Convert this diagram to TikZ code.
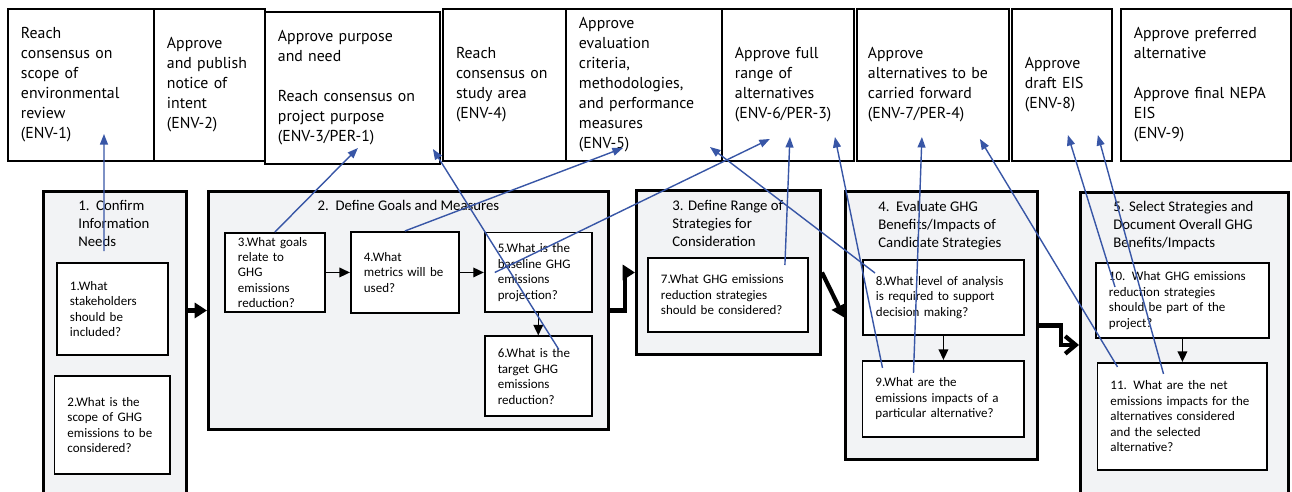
\documentclass[tikz,border=0pt]{standalone}
\usepackage{fontspec}
\setmainfont{Carlito}
\newfontfamily\milestonefont{PT Sans}
\usetikzlibrary{positioning,arrows.meta}

\definecolor{linkblue}{RGB}{56,86,166}
\definecolor{stagefill}{RGB}{242,243,245}

\tikzset{
  milestone/.style={draw, line width=1pt, outer sep=0pt, align=left,
    inner xsep=0.26cm, inner ysep=0pt, minimum height=3.04cm,
    font=\milestonefont\fontsize{9}{11.4}\selectfont},
  stage/.style={draw, fill=stagefill, line width=1.7pt, inner sep=0pt},
  stagetitle/.style={inner sep=0pt, align=left, font=\fontsize{8.4}{10.2}\selectfont},
  question/.style={draw, fill=white, line width=1.1pt, align=left,
    inner xsep=0.26cm, inner ysep=0pt, font=\fontsize{7.4}{8.8}\selectfont},
  flow/.style={line width=0.8pt, -{Triangle[length=6pt,width=5.5pt]}},
  stageflow/.style={line width=2.4pt, -{Triangle[length=7pt,width=8.5pt]}},
  link/.style={linkblue, line width=0.8pt, -{Triangle[length=6pt,width=4.5pt]}},
}

\begin{document}
\begin{tikzpicture}[x=0.02cm, y=-0.02cm]

  \useasboundingbox (0,0) rectangle (1292,491);

  % Define nodes: milestones
  \node[milestone, text width=2.40cm, anchor=north west] (env1) at (8,9) {Reach\\consensus on\\scope of\\environmental\\review\\(ENV-1)};
  \node[milestone, text width=1.70cm, right=0pt of env1] (env2) {Approve\\and publish\\notice of\\intent\\(ENV-2)};
  \node[milestone, text width=2.98cm, right=0pt of env2, yshift=-0.06cm] (env3) {Approve purpose\\and need\\[11.4pt]Reach consensus on\\project purpose\\(ENV-3/PER-1)};
  \node[milestone, text width=1.94cm, anchor=north west] (env4) at (443,9) {Reach\\consensus on\\study area\\(ENV-4)};
  \node[milestone, text width=2.60cm, right=0pt of env4] (env5) {Approve\\evaluation\\criteria,\\methodologies,\\and performance\\measures\\(ENV-5)};
  \node[milestone, text width=2.12cm, right=0pt of env5] (env6) {Approve full\\range of\\alternatives\\(ENV-6/PER-3)};
  \node[milestone, text width=2.60cm, inner xsep=0.22cm, right=0.06cm of env6] (env7) {Approve\\alternatives to be\\carried forward\\(ENV-7/PER-4)};
  \node[milestone, text width=1.48cm, right=0.06cm of env7] (env8) {Approve\\draft EIS\\(ENV-8)};
  \node[milestone, text width=2.88cm, right=0.18cm of env8] (env9) {Approve preferred\\alternative\\[11.4pt]Approve final NEPA\\EIS\\(ENV-9)};

  % Define nodes: stages
  \node[stage, minimum width=2.86cm, minimum height=6.12cm, anchor=north west] (s1) at (42,190) {};
  \node[stage, minimum width=8.00cm, minimum height=4.76cm, anchor=north west] (s2) at (207,190) {};
  \node[stage, minimum width=3.68cm, minimum height=3.28cm, anchor=north west] (s3) at (635,189) {};
  \node[stage, minimum width=3.84cm, minimum height=5.36cm, anchor=north west] (s4) at (844,190) {};
  \node[stage, minimum width=4.16cm, minimum height=6.10cm, anchor=north west] (s5) at (1079,191) {};

  \node[stagetitle, anchor=north west] (t1) at (78,200) {1.\ \ Confirm\\Information\\Needs};
  \node[stagetitle, below=0.2cm of s2.north] (t2) {2.\ \ Define Goals and Measures};
  \node[stagetitle, anchor=north west] (t3) at (672,200) {3. Define Range of\\Strategies for\\Consideration};
  \node[stagetitle, anchor=north west] (t4) at (878,201) {4.\ \ Evaluate GHG\\Benefits/Impacts of\\Candidate Strategies};
  \node[stagetitle, anchor=north west] (t5) at (1113,201) {5. Select Strategies and\\Document Overall GHG\\Benefits/Impacts};

  % Define nodes: questions
  \node[question, text width=1.70cm, minimum height=1.84cm, anchor=north west] (q1) at (56,262) {1.What\\stakeholders\\should be\\included?};
  \node[question, text width=1.80cm, minimum height=1.96cm, below=0.38cm of q1] (q2) {2.What is the\\scope of GHG\\emissions to be\\considered?};
  \node[question, text width=1.48cm, minimum height=1.58cm, anchor=north west] (q3) at (224,232) {3.What goals\\relate to\\GHG\\emissions\\reduction?};
  \node[question, text width=1.64cm, minimum height=1.62cm, right=0.48cm of q3] (q4) {4.What\\metrics will be\\used?};
  \node[question, text width=1.62cm, minimum height=1.60cm, right=0.48cm of q4] (q5) {5.What is the\\baseline GHG\\emissions\\projection?};
  \node[question, text width=1.62cm, minimum height=1.60cm, below=0.44cm of q5] (q6) {6.What is the\\target GHG\\emissions\\reduction?};
  \node[question, text width=2.68cm, minimum height=1.48cm, anchor=north west] (q7) at (647,257) {7.What GHG emissions\\reduction strategies\\should be considered?};
  \node[question, text width=2.70cm, minimum height=1.50cm, anchor=north west] (q8) at (862,259) {8.What level of analysis\\is required to support\\decision making?};
  \node[question, text width=2.72cm, minimum height=1.52cm, below=0.48cm of q8] (q9) {9.What are the\\emissions impacts of a\\particular alternative?};
  \node[question, text width=2.94cm, minimum height=1.50cm, anchor=north west] (q10) at (1095,262) {10. What GHG emissions\\reduction strategies\\should be part of the\\project?};
  \node[question, text width=2.88cm, minimum height=2.14cm, below=0.46cm of q10] (q11) {11. What are the net\\emissions impacts for the\\alternatives considered\\and the selected\\alternative?};

  % Connect the nodes
  \draw[stageflow] (s1.east |- s2.west) -- (s2.west);
  \draw[stageflow] (s2.east) -- ++(15,0) |- (s3.west);
  \draw[stageflow] (s3.east) -- ([yshift=0.16cm]s4.west);
  \draw[stageflow, -{Straight Barb[length=6pt,width=10pt]}] (s4.east) -- ++(22,0) |- (s5.west);

  \draw[flow] (q3) -- (q4);
  \draw[flow] (q4) -- (q5);
  \draw[flow] (q5) -- (q6);
  \draw[flow] (q8) -- (q9);
  \draw[flow] (q10) -- (q11);

  % Links to milestones
  \draw[link] ([shift={(-8.5,-11)}]q1.north) -- ([shift={(23,-27)}]env1.south);
  \draw[link] (q3.north) -- ([shift={(5.5,-16)}]env3.south);
  \draw[link] ([shift={(20.5,14)}]q6.north) -- ([shift={(-7,-15)}]env3.south east);
  \draw[link] (q4.north) -- ([shift={(-21,-13)}]env5.south);
  \draw[link] ([shift={(11,0)}]q5.west) -- ([shift={(-18,-22)}]env6.south);
  \draw[link] ([shift={(13,14)}]q8.north west) -- ([shift={(-12,-14)}]env5.south east);
  \draw[link] ([shift={(-24,8)}]q7.north east) -- ([shift={(2,-24)}]env6.south);
  \draw[link] ([shift={(21,8)}]q9.north west) -- ([shift={(-19,-24)}]env6.south east);
  \draw[link] ([shift={(52,13)}]q9.north west) -- ([shift={(-11,-24)}]env7.south);
  \draw[link] ([shift={(21,5)}]q11.north west) -- ([shift={(-29,-22)}]env7.south east);
  \draw[link] ([shift={(20,25)}]q10.north west) -- ([shift={(6,-26)}]env8.south);
  \draw[link] ([shift={(67,12)}]q11.north west) -- ([shift={(-14,-26)}]env8.south east);

\end{tikzpicture}
\end{document}
